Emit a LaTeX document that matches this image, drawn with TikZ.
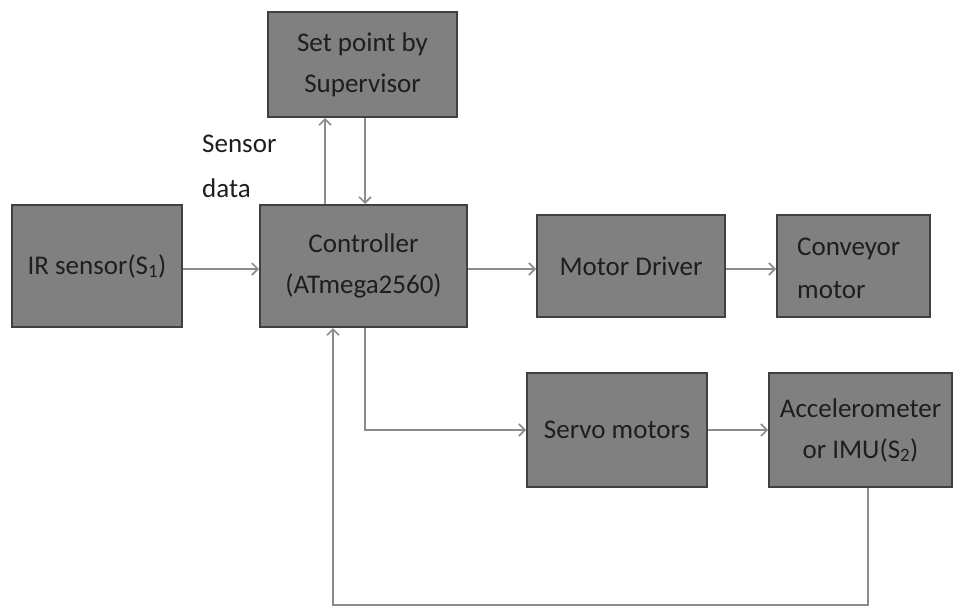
\documentclass[tikz,border=0pt]{standalone}
\usepackage{fontspec}
\setmainfont{Carlito}
\usetikzlibrary{arrows.meta}
\definecolor{boxfill}{HTML}{808080}
\definecolor{boxline}{HTML}{404040}
\definecolor{wire}{HTML}{8C8C8C}
\definecolor{ink}{HTML}{1E1E1E}
\begin{document}
\begin{tikzpicture}[x=1pt,y=-1pt,
  block/.style={draw=boxline, line width=2pt, fill=boxfill, text=ink,
    inner sep=0pt, align=center, font=\fontsize{27}{41}\selectfont},
  wire/.style={draw=wire, line width=2pt},
  arr/.style={wire, -{Straight Barb[length=6pt,width=12pt,line width=1.6pt]}},
  lbl/.style={text=ink, inner sep=0pt, align=left, font=\fontsize{27}{45}\selectfont}]
\useasboundingbox (0,0) rectangle (956,608);

% blocks
\node[block, minimum width=189pt, minimum height=105pt] (setp) at (362.5,64.5) {Set point by\\Supervisor};
\node[block, minimum width=207pt, minimum height=122pt] (ctrl) at (363.5,266) {Controller\\(ATmega2560)};
\node[block, minimum width=170pt, minimum height=122pt] (ir) at (97,266) {IR sensor(S\textsubscript{1})};
\node[block, minimum width=188pt, minimum height=102pt] (drv) at (631,266) {Motor Driver};
\node[block, minimum width=153pt, minimum height=102pt] (conv) at (853.5,266) {};
\node[text=ink, inner sep=0pt, align=left, font=\fontsize{27}{43}\selectfont, anchor=west] (convtxt) at (797,268) {Conveyor\\motor};
\node[block, minimum width=180pt, minimum height=114pt] (servo) at (617,430) {Servo motors};
\node[block, minimum width=183pt, minimum height=114pt] (acc) at (860.5,430) {Accelerometer\\or IMU(S\textsubscript{2})};

\node[lbl, anchor=west] (sd) at (202,166) {Sensor\\data};

% routing columns
\coordinate (cup) at (325,0);
\coordinate (cdn) at (365,0);
\coordinate (cfb) at (333,0);
\coordinate (afb) at (868,0);
\coordinate (rowsv) at (0,430);
\coordinate (rowbt) at (0,605);
\coordinate (rowin) at (0,269);

% connectors
\draw[arr] (ir.east |- rowin) -- (ctrl.west |- rowin);
\draw[arr] (ctrl.east |- rowin) -- (drv.west |- rowin);
\draw[arr] (drv.east |- rowin) -- (conv.west |- rowin);
\draw[arr] (cup |- ctrl.north) -- (cup |- setp.south);
\draw[arr] (cdn |- setp.south) -- (cdn |- ctrl.north);
\draw[arr] (cdn |- ctrl.south) -- (cdn |- rowsv) -- (servo.west |- rowsv);
\draw[arr] (servo.east |- rowsv) -- (acc.west |- rowsv);
\draw[arr] (afb |- acc.south) -- (afb |- rowbt) -- (cfb |- rowbt) -- (cfb |- ctrl.south);
\end{tikzpicture}
\end{document}
